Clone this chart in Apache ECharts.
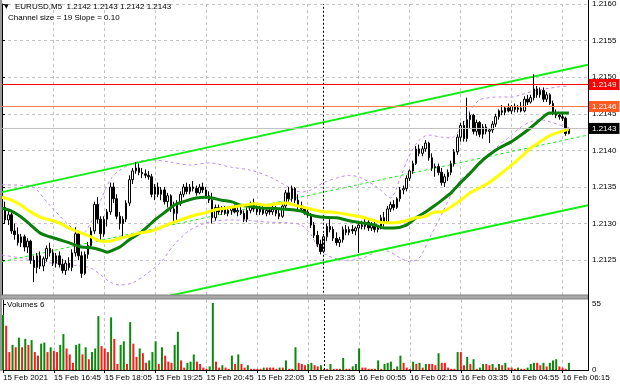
<!DOCTYPE html>
<html><head><meta charset="utf-8">
<script src="https://cdn.jsdelivr.net/npm/echarts@6/dist/echarts.min.js"></script>
<style>html,body{margin:0;padding:0;background:#fff}#c{width:620px;height:388px}</style>
</head><body><div id="c"></div>
<script>
const FONT = "'Liberation Sans',Arial,sans-serif";

const tickLabels = ['15 Feb 2021','15 Feb 16:45','15 Feb 18:05','15 Feb 19:25','15 Feb 20:45','15 Feb 22:05','15 Feb 23:35','16 Feb 00:55','16 Feb 02:15','16 Feb 03:35','16 Feb 04:55','16 Feb 06:15'];

const opens = [1.21336,1.21322,1.21305,1.21312,1.21290,1.21285,1.21274,1.21282,1.21268,1.21276,
1.21250,1.21240,1.21256,1.21242,1.21252,1.21266,1.21260,1.21246,1.21256,1.21244,
1.21236,1.21246,1.21240,1.21260,1.21286,1.21256,1.21232,1.21258,1.21270,1.21290,
1.21326,1.21306,1.21286,1.21306,1.21316,1.21350,1.21334,1.21310,1.21300,1.21306,
1.21328,1.21360,1.21372,1.21376,1.21370,1.21368,1.21366,1.21364,1.21340,1.21350,
1.21340,1.21346,1.21330,1.21338,1.21320,1.21314,1.21328,1.21340,1.21350,1.21344,
1.21350,1.21348,1.21342,1.21350,1.21346,1.21338,1.21332,1.21308,1.21322,1.21316,
1.21320,1.21314,1.21318,1.21322,1.21316,1.21318,1.21314,1.21306,1.21318,1.21328,
1.21320,1.21316,1.21320,1.21314,1.21318,1.21316,1.21320,1.21314,1.21310,1.21324,
1.21342,1.21334,1.21348,1.21332,1.21324,1.21320,1.21316,1.21312,1.21298,1.21284,
1.21272,1.21262,1.21282,1.21296,1.21292,1.21280,1.21274,1.21278,1.21292,1.21288,
1.21292,1.21290,1.21294,1.21298,1.21296,1.21302,1.21294,1.21298,1.21292,1.21296,
1.21308,1.21302,1.21320,1.21326,1.21322,1.21334,1.21346,1.21348,1.21362,1.21372,
1.21382,1.21402,1.21396,1.21402,1.21410,1.21390,1.21376,1.21378,1.21370,1.21356,
1.21364,1.21370,1.21382,1.21398,1.21418,1.21434,1.21416,1.21442,1.21448,1.21426,
1.21438,1.21422,1.21432,1.21426,1.21428,1.21436,1.21446,1.21454,1.21452,1.21458,
1.21454,1.21460,1.21456,1.21458,1.21454,1.21470,1.21466,1.21472,1.21484,1.21476,
1.21482,1.21470,1.21476,1.21464,1.21452,1.21448,1.21446,1.21444,1.21423];

const highs = [1.21342,1.21330,1.21318,1.21315,1.21300,1.21295,1.21286,1.21285,1.21280,1.21278,
1.21256,1.21260,1.21262,1.21255,1.21270,1.21274,1.21265,1.21260,1.21262,1.21252,
1.21250,1.21254,1.21265,1.21295,1.21290,1.21262,1.21262,1.21275,1.21295,1.21330,
1.21336,1.21310,1.21310,1.21320,1.21356,1.21356,1.21340,1.21316,1.21310,1.21332,
1.21366,1.21376,1.21384,1.21382,1.21376,1.21374,1.21372,1.21368,1.21354,1.21356,
1.21350,1.21350,1.21342,1.21340,1.21330,1.21332,1.21344,1.21354,1.21356,1.21354,
1.21358,1.21352,1.21354,1.21356,1.21350,1.21344,1.21342,1.21326,1.21326,1.21324,
1.21324,1.21322,1.21324,1.21326,1.21322,1.21324,1.21318,1.21322,1.21330,1.21334,
1.21326,1.21324,1.21324,1.21322,1.21322,1.21324,1.21324,1.21320,1.21328,1.21346,
1.21350,1.21352,1.21350,1.21340,1.21330,1.21324,1.21320,1.21314,1.21302,1.21290,
1.21278,1.21286,1.21300,1.21306,1.21296,1.21288,1.21282,1.21296,1.21298,1.21296,
1.21298,1.21296,1.21302,1.21304,1.21306,1.21306,1.21302,1.21302,1.21298,1.21312,
1.21316,1.21324,1.21330,1.21332,1.21336,1.21350,1.21352,1.21366,1.21374,1.21386,
1.21406,1.21408,1.21406,1.21414,1.21412,1.21396,1.21382,1.21382,1.21376,1.21368,
1.21374,1.21386,1.21402,1.21422,1.21438,1.21440,1.21472,1.21452,1.21450,1.21442,
1.21440,1.21436,1.21436,1.21430,1.21440,1.21450,1.21456,1.21462,1.21460,1.21464,
1.21462,1.21464,1.21462,1.21466,1.21474,1.21476,1.21476,1.21504,1.21488,1.21486,
1.21486,1.21480,1.21478,1.21468,1.21456,1.21452,1.21450,1.21446,1.21431];

const lows = [1.21318,1.21300,1.21298,1.21286,1.21278,1.21270,1.21268,1.21262,1.21260,1.21245,
1.21220,1.21232,1.21238,1.21235,1.21248,1.21255,1.21242,1.21240,1.21240,1.21232,
1.21230,1.21236,1.21235,1.21255,1.21250,1.21226,1.21230,1.21252,1.21266,1.21286,
1.21300,1.21278,1.21282,1.21296,1.21312,1.21328,1.21306,1.21292,1.21282,1.21302,
1.21324,1.21354,1.21368,1.21366,1.21362,1.21362,1.21360,1.21336,1.21332,1.21336,
1.21332,1.21326,1.21322,1.21316,1.21300,1.21302,1.21324,1.21336,1.21340,1.21340,
1.21344,1.21338,1.21340,1.21342,1.21334,1.21328,1.21300,1.21304,1.21312,1.21312,
1.21312,1.21310,1.21312,1.21314,1.21310,1.21312,1.21302,1.21302,1.21314,1.21316,
1.21312,1.21312,1.21312,1.21310,1.21312,1.21312,1.21310,1.21306,1.21308,1.21320,
1.21330,1.21330,1.21328,1.21320,1.21316,1.21312,1.21308,1.21294,1.21280,1.21268,
1.21258,1.21260,1.21276,1.21288,1.21276,1.21270,1.21268,1.21274,1.21284,1.21284,
1.21286,1.21284,1.21260,1.21292,1.21292,1.21290,1.21290,1.21288,1.21288,1.21292,
1.21296,1.21300,1.21316,1.21318,1.21320,1.21330,1.21340,1.21344,1.21358,1.21368,
1.21380,1.21392,1.21392,1.21398,1.21386,1.21372,1.21364,1.21366,1.21352,1.21350,
1.21358,1.21366,1.21378,1.21394,1.21412,1.21412,1.21412,1.21430,1.21422,1.21420,
1.21418,1.21416,1.21422,1.21410,1.21424,1.21432,1.21442,1.21448,1.21448,1.21452,
1.21450,1.21452,1.21452,1.21452,1.21452,1.21462,1.21464,1.21468,1.21472,1.21472,
1.21466,1.21466,1.21462,1.21448,1.21444,1.21442,1.21440,1.21420,1.21422];

const closes = [1.21322,1.21305,1.21312,1.21290,1.21285,1.21274,1.21282,1.21268,1.21276,1.21250,
1.21240,1.21256,1.21242,1.21252,1.21266,1.21260,1.21246,1.21256,1.21244,1.21236,
1.21246,1.21240,1.21260,1.21286,1.21256,1.21232,1.21258,1.21270,1.21290,1.21326,
1.21306,1.21286,1.21306,1.21316,1.21350,1.21334,1.21310,1.21300,1.21306,1.21328,
1.21360,1.21372,1.21376,1.21370,1.21368,1.21366,1.21364,1.21340,1.21350,1.21340,
1.21346,1.21330,1.21338,1.21320,1.21314,1.21328,1.21340,1.21350,1.21344,1.21350,
1.21348,1.21342,1.21350,1.21346,1.21338,1.21332,1.21308,1.21322,1.21316,1.21320,
1.21314,1.21318,1.21322,1.21316,1.21318,1.21314,1.21306,1.21318,1.21328,1.21320,
1.21316,1.21320,1.21314,1.21318,1.21316,1.21320,1.21314,1.21310,1.21324,1.21342,
1.21334,1.21348,1.21332,1.21324,1.21320,1.21316,1.21312,1.21298,1.21284,1.21272,
1.21262,1.21282,1.21296,1.21292,1.21280,1.21274,1.21278,1.21292,1.21288,1.21292,
1.21290,1.21294,1.21298,1.21296,1.21302,1.21294,1.21298,1.21292,1.21296,1.21308,
1.21302,1.21320,1.21326,1.21322,1.21334,1.21346,1.21348,1.21362,1.21372,1.21382,
1.21402,1.21396,1.21402,1.21410,1.21390,1.21376,1.21378,1.21370,1.21356,1.21364,
1.21370,1.21382,1.21398,1.21418,1.21434,1.21416,1.21442,1.21448,1.21426,1.21438,
1.21422,1.21432,1.21426,1.21428,1.21436,1.21446,1.21454,1.21452,1.21458,1.21454,
1.21460,1.21456,1.21458,1.21454,1.21470,1.21466,1.21472,1.21484,1.21476,1.21482,
1.21470,1.21476,1.21464,1.21452,1.21448,1.21446,1.21444,1.21423,1.21430];

const volumes = [46,37,15,21,19,27,19,26,21,25,
15,12,22,23,15,19,16,15,21,30,
18,13,6,21,22,13,19,9,15,18,
45,20,18,15,44,26,5,21,24,5,
40,22,11,18,14,6,8,15,24,5,
19,12,7,6,21,32,8,2,6,7,
13,7,5,2,1,3,56,7,2,4,
2,1,12,5,13,5,2,4,1,1,
1,1,2,2,2,2,1,2,2,8,
1,1,19,6,5,4,5,6,4,3,
4,1,1,5,1,1,1,10,1,1,
3,5,18,2,2,1,1,1,8,1,
5,6,7,1,3,12,6,2,1,7,
5,6,2,5,5,5,4,14,6,6,
2,1,1,15,15,4,11,5,9,1,
2,5,5,4,5,2,5,4,6,2,
2,1,2,1,1,2,5,6,6,4,
6,3,6,8,9,3,2,1,6];

// moving averages: [bar index, price]
const maGreen = [[0,1.21321],[3,1.21317],[6,1.21309],[9,1.21298],[12,1.21287],[15,1.21282],[18,1.21278],[21,1.21274],[25,1.21268],[28,1.21267],[31,1.21264],[33,1.21261],[35,1.21264],[37,1.21268],[40,1.21278],[43,1.21286],[46,1.21297],[48,1.21305],[51,1.21315],[54,1.21325],[57,1.21330],[61,1.21335],[64,1.21336],[66,1.21335],[69,1.21332],[72,1.21330],[75,1.21325],[79,1.21323],[82,1.21321],[85,1.21321],[88,1.21320],[91,1.21319],[94,1.21317],[96,1.21313],[100,1.21309],[105,1.21308],[109,1.21304],[113,1.21301],[117,1.21298],[120,1.21294],[123,1.21294],[127,1.21298],[130,1.21308],[133,1.21316],[136,1.21325],[139,1.21335],[141,1.21342],[144,1.21356],[147,1.21369],[150,1.21383],[153,1.21394],[156,1.21403],[160,1.21412],[163,1.21421],[166,1.21431],[169,1.21442],[172,1.21451],[175,1.21451],[178,1.21451]];
const maYellow = [[0,1.21336],[3,1.21332],[6,1.21325],[9,1.21316],[12,1.21309],[15,1.21305],[18,1.21301],[21,1.21294],[25,1.21287],[28,1.21282],[31,1.21276],[34,1.21276],[37,1.21280],[40,1.21283],[43,1.21287],[47,1.21290],[51,1.21297],[54,1.21302],[58,1.21308],[61,1.21312],[64,1.21315],[67,1.21319],[70,1.21321],[73,1.21323],[76,1.21325],[79,1.21327],[83,1.21325],[86,1.21327],[89,1.21328],[92,1.21325],[96,1.21321],[100,1.21317],[105,1.21315],[109,1.21312],[113,1.21309],[117,1.21304],[120,1.21301],[123,1.21301],[127,1.21304],[130,1.21308],[133,1.21310],[136,1.21316],[138,1.21316],[141,1.21323],[144,1.21332],[147,1.21342],[150,1.21349],[153,1.21356],[156,1.21366],[160,1.21380],[163,1.21391],[166,1.21403],[169,1.21412],[172,1.21420],[175,1.21425],[178,1.21429]];
const bbUpper = [[0,1.21353],[9,1.21351],[15,1.21325],[21,1.21298],[25,1.21286],[28,1.21302],[31,1.21332],[34,1.21360],[37,1.21373],[42,1.21384],[47,1.21387],[53,1.21384],[59,1.21380],[65,1.21383],[72,1.21377],[78,1.21373],[84,1.21364],[90,1.21350],[94,1.21343],[97,1.21346],[101,1.21356],[105,1.21362],[109,1.21366],[113,1.21362],[118,1.21349],[122,1.21335],[125,1.21362],[128,1.21394],[131,1.21414],[134,1.21421],[138,1.21418],[141,1.21417],[144,1.21431],[147,1.21455],[150,1.21469],[153,1.21472],[156,1.21473],[160,1.21473],[163,1.21476],[166,1.21480],[169,1.21483],[172,1.21485],[175,1.21487],[178,1.21488]];
const bbLower = [[0,1.21257],[6,1.21253],[12,1.21248],[18,1.21245],[25,1.21242],[28,1.21239],[31,1.21230],[34,1.21220],[37,1.21216],[41,1.21219],[45,1.21230],[50,1.21248],[54,1.21271],[59,1.21291],[65,1.21302],[72,1.21305],[78,1.21304],[84,1.21302],[90,1.21301],[94,1.21298],[97,1.21285],[100,1.21262],[105,1.21252],[109,1.21250],[114,1.21254],[119,1.21264],[122,1.21261],[125,1.21253],[128,1.21248],[131,1.21253],[134,1.21278],[138,1.21312],[141,1.21339],[144,1.21360],[147,1.21371],[150,1.21380],[153,1.21394],[156,1.21407],[160,1.21421],[163,1.21432],[166,1.21439],[169,1.21442],[172,1.21439],[175,1.21435],[178,1.21431]];

// regression channel end points: [bar index, price]
const channelUpper = [[0,1.21343],[184,1.21517]];
const channelMid = [[0,1.21248],[184,1.21421]];
const channelLower = [[0,1.21152],[184,1.21325]];

// horizontal levels [price, line colour, label box colour]
const levels = [[1.2149, '#ff0000', '#ff0000'], [1.2146, '#ff7a4a', '#ff5a20'], [1.2143, '#c0c0c0', '#000000']];
const daySeparator = 101;
const lastIndex = 184;

const GREEN = '#0a8a0a', RED = '#ff1a1a';
const candleRows = opens.map((o, i) => [i, o, closes[i], lows[i], highs[i]]);
const volData = volumes.map((v, i) => ({value: [i, v], itemStyle: {color: (i === 0 || v > volumes[i-1]) ? GREEN : RED}}));

const gridDash = {show: true, lineStyle: {color: '#c4c4c4', type: [3, 3], width: 1}};
const txt = {fontFamily: FONT, fontSize: 8, color: '#000'};

const levelSeries = levels.map(([p, lc, bc]) => ({
  type: 'line', xAxisIndex: 0, yAxisIndex: 0, data: [[0, p], [lastIndex, p]], symbol: 'none', clip: false, z: 6,
  silent: true, lineStyle: {color: lc, width: 1},
  endLabel: {show: true, formatter: p.toFixed(4), color: '#fff', backgroundColor: bc, padding: [2, 3, 1, 3],
    fontFamily: FONT, fontSize: 8, distance: 1}
}));

const chart = echarts.init(document.getElementById('c'));
chart.setOption({
  animation: false,
  backgroundColor: '#fff',
  title: [
    {text: '▼', left: 4, top: 3, padding: 0, textStyle: {fontFamily: 'DejaVu Sans', fontSize: 6, fontWeight: 'normal', color: '#000'}},
    {text: 'EURUSD,M5  1.2142 1.2143 1.2142 1.2143', left: 15, top: 3, padding: 0, textStyle: Object.assign({fontWeight: 'normal'}, txt)},
    {text: 'Channel size = 19 Slope = 0.10', left: 8, top: 14, padding: 0, textStyle: Object.assign({fontWeight: 'normal'}, txt)},
    {text: 'Volumes 6', left: 7, top: 301, padding: 0, textStyle: Object.assign({fontWeight: 'normal'}, txt)}
  ],
  grid: [
    {left: 2, right: 32, top: 4, height: 292.8},
    {left: 2, right: 32, top: 300, height: 70}
  ],
  xAxis: [
    {type: 'value', gridIndex: 0, min: 0, max: 184, interval: 16,
     axisLine: {show: false}, axisTick: {show: false}, axisLabel: {show: false}, splitLine: gridDash},
    {type: 'value', gridIndex: 1, min: 0, max: 184, interval: 16,
     axisLine: {show: true, lineStyle: {color: '#000', width: 1}},
     axisTick: {show: true, length: 3, lineStyle: {color: '#000'}},
     axisLabel: Object.assign({align: 'left', margin: 4, showMaxLabel: false,
        formatter: v => (v % 16 === 0 && tickLabels[v/16]) ? tickLabels[v/16] : ''}, txt),
     splitLine: gridDash}
  ],
  yAxis: [
    {type: 'value', gridIndex: 0, position: 'right', min: 1.2120, max: 1.2160, interval: 0.0005,
     axisLine: {show: true, lineStyle: {color: '#000'}},
     axisTick: {show: true, length: 3, lineStyle: {color: '#000'}},
     axisLabel: Object.assign({margin: 4, showMinLabel: false, formatter: v => v.toFixed(4)}, txt),
     splitLine: gridDash},
    {type: 'value', gridIndex: 1, position: 'right', min: 0, max: 58.5, interval: 55,
     axisLine: {show: true, lineStyle: {color: '#000'}},
     axisTick: {show: true, length: 3, lineStyle: {color: '#000'}},
     axisLabel: Object.assign({margin: 4, showMaxLabel: false}, txt),
     splitLine: {show: false}}
  ],
  series: [
    {type: 'line', name: 'bbUpper', xAxisIndex: 0, yAxisIndex: 0, data: bbUpper, smooth: 0.3, symbol: 'none',
     lineStyle: {color: '#c08cf0', width: 1, type: [3, 3]}, z: 2},
    {type: 'line', name: 'bbLower', xAxisIndex: 0, yAxisIndex: 0, data: bbLower, smooth: 0.3, symbol: 'none',
     lineStyle: {color: '#c08cf0', width: 1, type: [3, 3]}, z: 2},
    {type: 'line', name: 'chU', xAxisIndex: 0, yAxisIndex: 0, data: channelUpper, symbol: 'none', clip: true,
     lineStyle: {color: '#11ee11', width: 2}, z: 3},
    {type: 'line', name: 'chM', xAxisIndex: 0, yAxisIndex: 0, data: channelMid, symbol: 'none', clip: true,
     lineStyle: {color: '#11ee11', width: 1, type: [3, 3]}, z: 3},
    {type: 'line', name: 'chL', xAxisIndex: 0, yAxisIndex: 0, data: channelLower, symbol: 'none', clip: true,
     lineStyle: {color: '#11ee11', width: 2}, z: 3},
    {type: 'candlestick', xAxisIndex: 0, yAxisIndex: 0, data: candleRows, encode: {x: 0, y: [1, 2, 3, 4]},
     barWidth: 2, z: 4,
     itemStyle: {color: '#ffffff', color0: '#000000', borderColor: '#000000', borderColor0: '#000000', borderWidth: 1},
     markLine: {symbol: ['none', 'none'], silent: true, animation: false,
       data: [{xAxis: daySeparator, lineStyle: {color: '#000', width: 1, type: [2, 2]}, label: {show: false}}]}},
    ...levelSeries,
    {type: 'line', name: 'maGreen', xAxisIndex: 0, yAxisIndex: 0, data: maGreen, smooth: 0.3, symbol: 'none',
     lineStyle: {color: '#0a7f0a', width: 3}, z: 5},
    {type: 'line', name: 'maYellow', xAxisIndex: 0, yAxisIndex: 0, data: maYellow, smooth: 0.3, symbol: 'none',
     lineStyle: {color: '#ffff00', width: 3}, z: 5},
    {type: 'bar', xAxisIndex: 1, yAxisIndex: 1, data: volData, barWidth: 2, z: 4,
     markLine: {symbol: ['none', 'none'], silent: true, animation: false,
       data: [{xAxis: daySeparator, lineStyle: {color: '#000', width: 1, type: [2, 2]}, label: {show: false}}]}}
  ],
  graphic: [
    {type: 'rect', shape: {x: 0, y: 0, width: 2, height: 371}, style: {fill: '#9a9a9a'}, z: 100},
    {type: 'rect', shape: {x: 0, y: 295, width: 588, height: 4}, style: {fill: '#a8a8a8', stroke: '#808080', lineWidth: 1}, z: 100},
    {type: 'line', shape: {x1: 588.5, y1: 0, x2: 588.5, y2: 371}, style: {stroke: '#000', lineWidth: 1}, z: 100}
  ]
});
</script>
</body></html>
